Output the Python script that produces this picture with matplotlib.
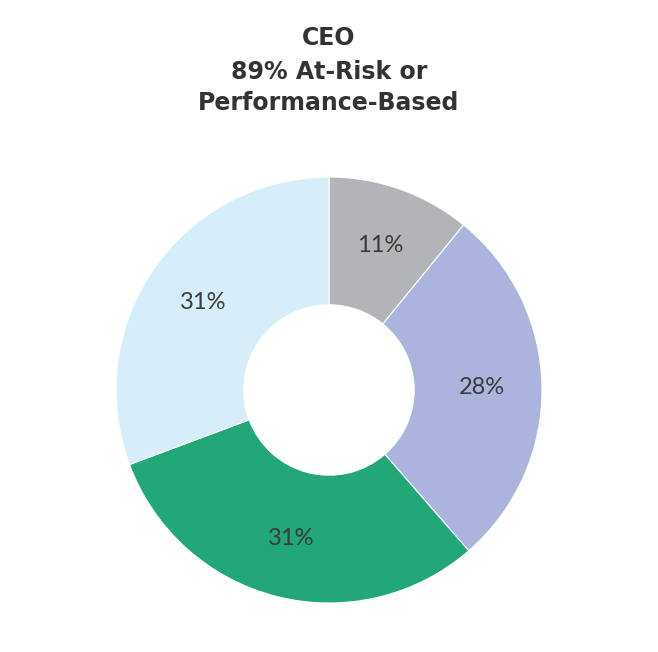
import numpy as np
import matplotlib.pyplot as plt

title_lines = ['CEO', '89% At-Risk or', 'Performance-Based']
labels = ['11%', '28%', '31%', '31%']
values = [11, 28, 31, 31]
colors = ['#B3B4B8', '#AAB4DC', '#22A778', '#D6EEFA']

fig = plt.figure(figsize=(6.58, 6.52), dpi=100)

# donut axes: centre at (329, 390) px, outer radius ~213 px
cx, cy, r = 329, 652 - 390, 213
ax = fig.add_axes([(cx - r) / 658, (cy - r) / 652, 2 * r / 658, 2 * r / 652])

wedges, texts = ax.pie(values, colors=colors, startangle=90, counterclock=False,
                       radius=1.0,
                       wedgeprops=dict(width=0.6, edgecolor='white', linewidth=0.8))
for w, lab in zip(wedges, labels):
    ang = np.deg2rad((w.theta1 + w.theta2) / 2)
    ax.text(0.72 * np.cos(ang), 0.72 * np.sin(ang), lab, ha='center', va='center',
            fontsize=17, color='#3a3a3a', family='Lato')
ax.set_xlim(-1, 1)
ax.set_ylim(-1, 1)
ax.set_aspect('equal')
ax.axis('off')

ys = [38, 72, 103]
for line, y in zip(title_lines, ys):
    fig.text(329 / 658, 1 - y / 652, line, ha='center', va='center',
             fontsize=17, fontweight='bold', color='#333333', family='DejaVu Sans')

plt.savefig('out.png', dpi=100)
